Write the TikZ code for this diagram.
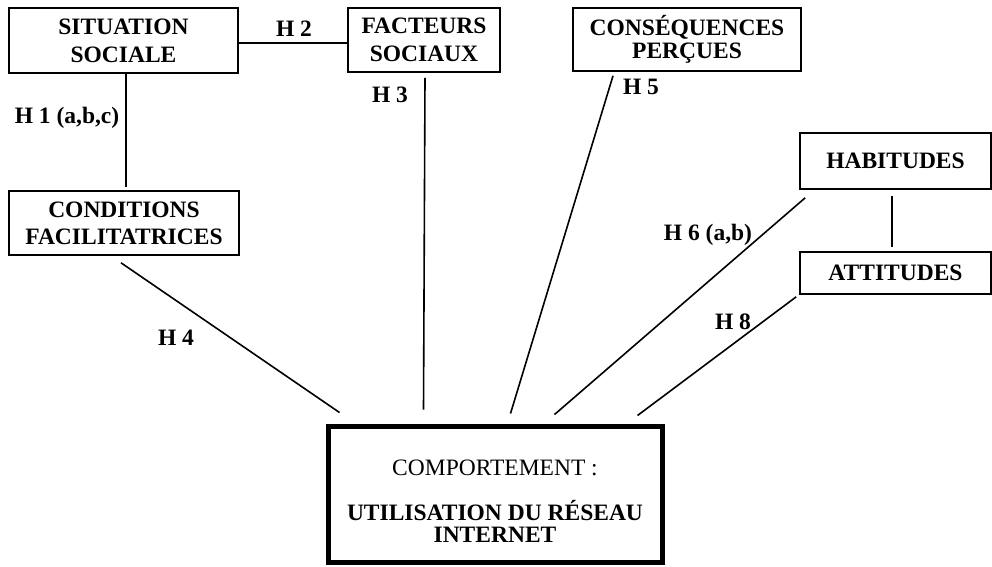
\documentclass[tikz,border=0pt]{standalone}
\usepackage{fontspec}
\setmainfont{Liberation Serif}
\begin{document}
\begin{tikzpicture}[x=1pt,y=-1pt,
  box/.style={draw,line width=1.6pt,inner sep=0pt,align=center,font=\fontsize{23.5}{28}\selectfont\bfseries},
  lbl/.style={inner sep=0pt,font=\fontsize{23.5}{27}\selectfont\bfseries},
  conn/.style={line width=1.6pt}]
\path[fill=white] (0,0) rectangle (992,566);
\useasboundingbox (0,0) rectangle (992,566);

\node[box,minimum width=229pt,minimum height=65pt] (sit) at (123.5,40.5) {SITUATION\\SOCIALE};
\node[box,minimum width=152pt,minimum height=64pt] (fac) at (424,40) {FACTEURS\\SOCIAUX};
\node[box,minimum width=228pt,minimum height=63pt,font=\fontsize{23.5}{23}\selectfont\bfseries] (cons) at (687,39.5) {CONSÉQUENCES\\PERÇUES};
\node[box,minimum width=191pt,minimum height=56pt] (hab) at (895.5,161) {HABITUDES};
\node[box,minimum width=191pt,minimum height=42pt] (att) at (895.5,273) {ATTITUDES};
\node[box,minimum width=230pt,minimum height=64pt,font=\fontsize{23.5}{27}\selectfont\bfseries] (cond) at (124,223) {CONDITIONS\\FACILITATRICES};
\node[draw,line width=5pt,minimum width=334pt,minimum height=136pt,inner sep=0pt] (comp) at (495,494) {};
\node[inner sep=0pt,align=center,font=\fontsize{23.5}{22}\selectfont] (comptext) at (495,501)
  {COMPORTEMENT :\\[23pt]\textbf{UTILISATION DU RÉSEAU}\\\textbf{INTERNET}};

% labels
\node[lbl] (h1) at (67,118) {H 1 (a,b,c)};
\node[lbl] (h2) at (294,29) {H 2};
\node[lbl] (h3) at (390,95) {H 3};
\node[lbl] (h4) at (176,338) {H 4};
\node[lbl] (h5) at (641,87) {H 5};
\node[lbl] (h6) at (708,235) {H 6 (a,b)};
\node[lbl] (h8) at (733,322) {H 8};

% connectors
\draw[conn] ([xshift=2.5pt]sit.south) -- ([xshift=2pt,yshift=3pt]cond.north);
\draw[conn] ([yshift=-2.5pt]sit.east) -- ([yshift=-3pt]fac.west);
\draw[conn] ([xshift=1pt,yshift=-5pt]fac.south) -- ([xshift=98pt,yshift=14pt]comp.north west);
\draw[conn] ([xshift=-3pt,yshift=-7pt]cond.south) -- ([xshift=14pt,yshift=11pt]comp.north west);
\draw[conn] ([xshift=-74pt,yshift=-4pt]cons.south) -- ([xshift=185pt,yshift=10pt]comp.north west);
\draw[conn] ([xshift=6pt,yshift=-8pt]hab.south west) -- ([xshift=229pt,yshift=9pt]comp.north west);
\draw[conn] ([xshift=-3pt,yshift=-2pt]att.south west) -- ([xshift=312pt,yshift=8pt]comp.north west);
\draw[conn] ([xshift=-3.5pt,yshift=-6pt]hab.south) -- ([xshift=-3.5pt,yshift=4pt]att.north);
\end{tikzpicture}
\end{document}
